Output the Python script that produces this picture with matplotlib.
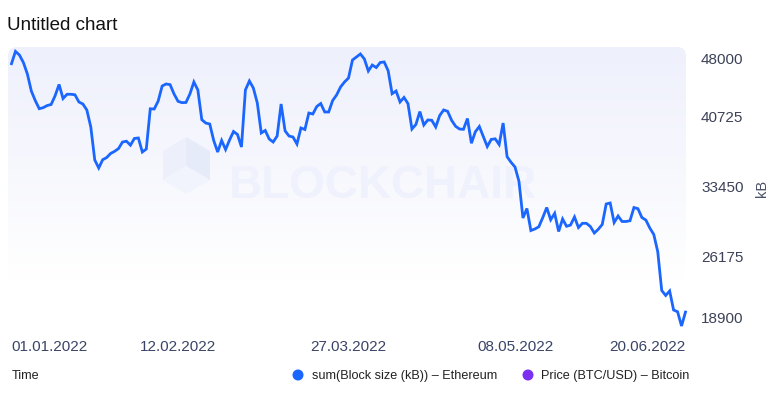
import numpy as np
import pandas as pd
import matplotlib
matplotlib.use("Agg")
import matplotlib.pyplot as plt
import matplotlib.dates as mdates
from matplotlib.patches import FancyBboxPatch, Polygon, Circle

plt.rcParams['font.family'] = ['Liberation Sans', 'DejaVu Sans']

# daily sum of Ethereum block size (kB), 01.01.2022 - 20.06.2022
block_size_kb = [
    46370, 47650, 47270, 46490, 45300, 43530, 42530, 41690, 41800, 42020,
    42130, 43040, 44210, 42750, 43190, 43190, 43140, 42390, 42180, 41560,
    39790, 36360, 35530, 36390, 36610, 37040, 37260, 37550, 38230, 38310,
    37900, 38600, 38650, 37190, 37500, 41680, 41660, 42490, 44050, 44260,
    44190, 43220, 42460, 42320, 42340, 43220, 44470, 43640, 40550, 40200,
    40100, 38390, 37190, 38390, 37450, 38440, 39320, 39010, 37710, 43640,
    44570, 43840, 42280, 39170, 39430, 38540, 38230, 38850, 42180, 39390,
    38850, 38750, 38020, 39690, 39530, 41240, 41140, 41920, 42230, 41350,
    41350, 42540, 43120, 43950, 44470, 44880, 46750, 47060, 47380, 46860,
    45610, 46230, 45970, 46490, 46550, 45640, 43250, 43530, 42390, 42860,
    42220, 39580, 40050, 41390, 40000, 40520, 40490, 39790, 40980, 41560,
    41420, 40490, 39870, 39580, 39550, 40670, 38100, 39300, 39840, 38800,
    37760, 38500, 38560, 37970, 40200, 36700, 36120, 35630, 34130, 30330,
    31320, 29030, 29190, 29420, 30380, 31420, 30150, 30820, 28930, 30230,
    29470, 29600, 30440, 29340, 29780, 29780, 29450, 28770, 29160, 29660,
    31790, 31890, 29860, 30540, 29970, 29970, 30050, 31420, 31300, 30380,
    30120, 29290, 28620, 26830, 22800, 22280, 22750, 20770, 20590, 19110,
    20560,
]
dates = pd.date_range("2022-01-01", periods=len(block_size_kb), freq="D")

x_ticks = ["2022-01-01", "2022-02-12", "2022-03-27", "2022-05-08", "2022-06-20"]
y_ticks = [18900, 26175, 33450, 40725, 48000]
legend_labels = ["sum(Block size (kB)) – Ethereum", "Price (BTC/USD) – Bitcoin"]
legend_colors = ["#1a66ff", "#7b2ff0"]

W, H = 775, 412
fig = plt.figure(figsize=(W / 100, H / 100), dpi=100)

# background layer in pixel coordinates
bg = fig.add_axes([0, 0, 1, 1], zorder=0)
bg.set_xlim(0, W)
bg.set_ylim(H, 0)
bg.axis("off")
grad = np.linspace(0, 1, 256).reshape(-1, 1)
cmap = matplotlib.colors.LinearSegmentedColormap.from_list("bgfade", ["#eef0fc", "#ffffff"])
im = bg.imshow(grad, cmap=cmap, aspect="auto", extent=(8, 686, 280, 47))
box = FancyBboxPatch((8, 47), 678, 233, boxstyle="round,pad=0,rounding_size=9",
                     transform=bg.transData, facecolor="none", edgecolor="none")
bg.add_patch(box)
im.set_clip_path(box)

# watermark
bg.add_patch(Polygon([(186, 137), (210, 151), (210, 180), (186, 166)], closed=True,
                     facecolor="#e6ebfa", edgecolor="none"))
bg.add_patch(Polygon([(163, 151), (186, 137), (186, 166), (163, 180)], closed=True,
                     facecolor="#edf0fb", edgecolor="none"))
bg.add_patch(Polygon([(163, 180), (186, 166), (210, 180), (186, 194)], closed=True,
                     facecolor="#f2f4fd", edgecolor="none"))
bg.text(383, 186, "BLOCKCHAIR", ha="center", va="center", fontsize=33,
        fontweight="bold", color="#eff2fc")

# main chart
left, right, top, bottom = 11.5, 685.5, 48, 328
ax = fig.add_axes([left / W, 1 - bottom / H, (right - left) / W, (bottom - top) / H], zorder=1)
ax.patch.set_alpha(0)
ax.plot(dates, block_size_kb, color="#1a66ff", lw=2.0, solid_joinstyle="miter", clip_on=False)
ax.set_xlim(dates[0], dates[-1])
ax.set_ylim(y_ticks[0], y_ticks[-1])
ax.set_xticks([])
ax.set_yticks([])
for s in ax.spines.values():
    s.set_visible(False)

tick_color = "#3a4468"
for i, d in enumerate(x_ticks):
    ha = "left" if i == 0 else ("right" if i == len(x_ticks) - 1 else "center")
    ax.annotate(pd.Timestamp(d).strftime("%d.%m.%Y"), xy=(mdates.date2num(pd.Timestamp(d)), 0),
                xycoords=("data", "axes fraction"), xytext=(0, -19), textcoords="offset pixels",
                ha=ha, va="center", fontsize=11, color=tick_color)

for i, v in enumerate(y_ticks):
    dy = 9 if i == 0 else (-12 if i == len(y_ticks) - 1 else 0)
    ax.annotate(str(v), xy=(1, v), xycoords=("axes fraction", "data"),
                xytext=(15.5, dy), textcoords="offset pixels",
                ha="left", va="center", fontsize=11, color="#3c4257")

fig.text(762 / W, 1 - 188 / H, "kB", rotation=90, ha="center", va="center",
         fontsize=10.5, color="#4a5068")

fig.text(7 / W, 1 - 25 / H, "Untitled chart", ha="left", va="center", fontsize=13.5, color="#111111")

# legend row
fig.text(12 / W, 1 - 376 / H, "Time", ha="left", va="center", fontsize=9.1, color="#222222")
for cx, tx, lab, col in zip([298, 528], [312, 541], legend_labels, legend_colors):
    bg.add_patch(Circle((cx, 375), 5.5, facecolor=col, edgecolor="none"))
    bg.text(tx, 376, lab, ha="left", va="center", fontsize=9.1, color="#222222")

fig.savefig("out.png", dpi=100)
